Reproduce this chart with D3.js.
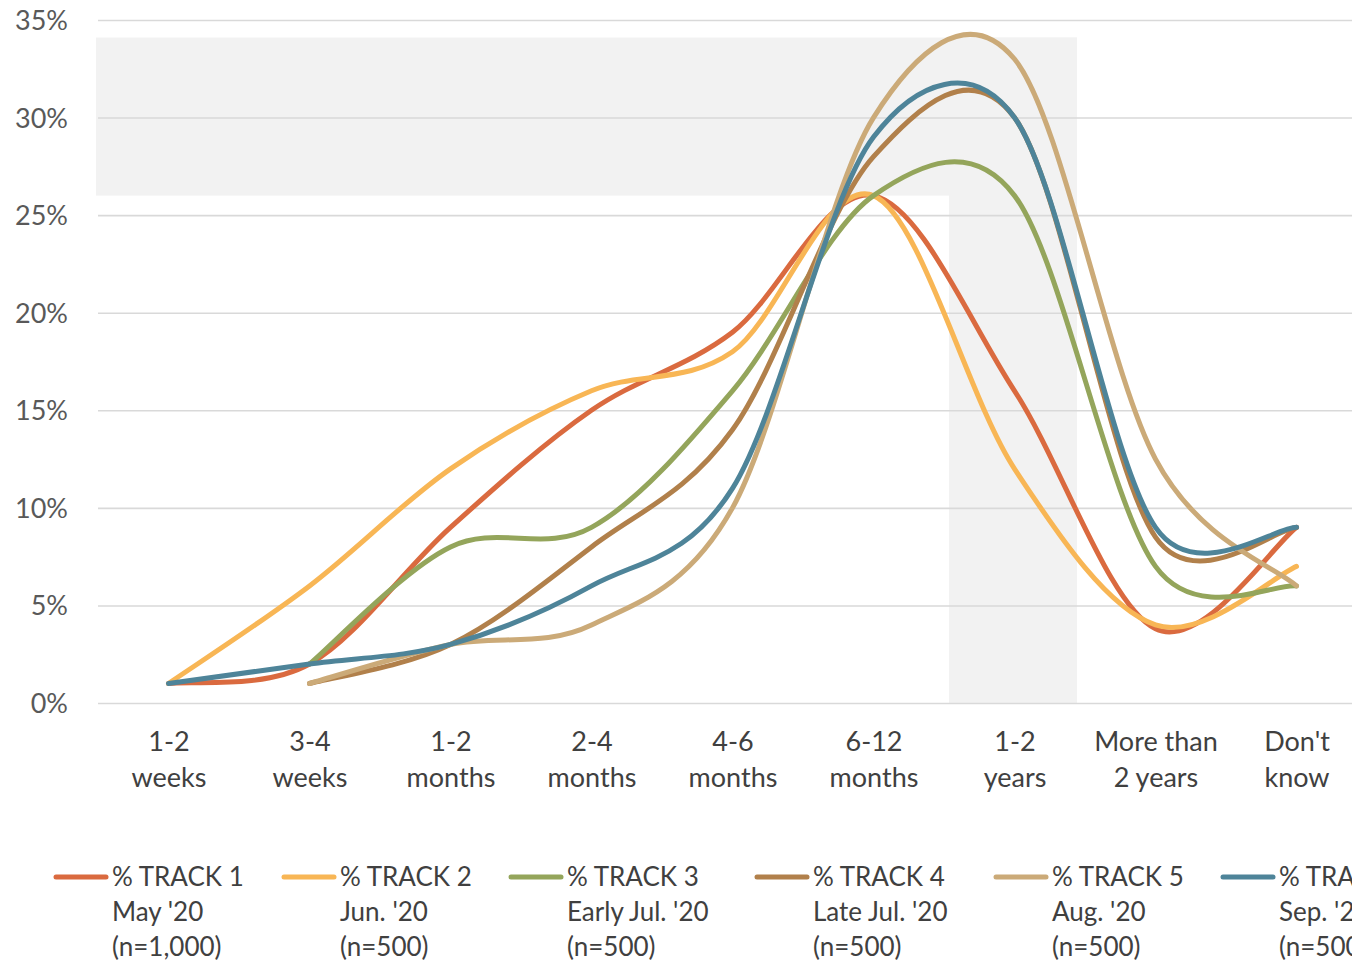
<!DOCTYPE html>
<html>
<head>
<meta charset="utf-8">
<script src="https://cdn.jsdelivr.net/npm/d3@7"></script>
<style>
  html, body { margin: 0; padding: 0; background: #fff; overflow: hidden; }
  svg { display: block; }
  text { font-family: "Lato", "Open Sans", sans-serif; }
</style>
</head>
<body>
<svg id="chart" width="1352" height="962"></svg>
<script>
// ---------- data ----------
const categories = ["1-2 weeks", "3-4 weeks", "1-2 months", "2-4 months", "4-6 months",
                    "6-12 months", "1-2 years", "More than 2 years", "Don't know"];
const categoryLines = [["1-2", "weeks"], ["3-4", "weeks"], ["1-2", "months"], ["2-4", "months"],
                       ["4-6", "months"], ["6-12", "months"], ["1-2", "years"],
                       ["More than", "2 years"], ["Don't", "know"]];
const yTicks = [0, 5, 10, 15, 20, 25, 30, 35];

const track1 = [1, 2, 9, 15, 19, 26, 16, 3.8, 9];
const track2 = [1, 6, 12, 16, 18, 26, 12, 4, 7];
const track3 = [null, 2, 8, 9, 16, 26, 26, 7, 6];
const track4 = [null, 1, 3, 8, 14, 28, 30, 8.5, 9];
const track5 = [null, 1, 3, 4, 10, 30, 33, 12.5, 6];
const track6 = [1, 2, 3, 6, 11, 29, 30, 9, 9];

const seriesNames = ["% TRACK 1", "% TRACK 2", "% TRACK 3", "% TRACK 4", "% TRACK 5", "% TRACK 6"];
const seriesDates = ["May '20", "Jun. '20", "Early Jul. '20", "Late Jul. '20", "Aug. '20", "Sep. '20"];
const seriesSizes = ["(n=1,000)", "(n=500)", "(n=500)", "(n=500)", "(n=500)", "(n=500)"];
const seriesColors = ["#DA6A3F", "#F8B655", "#94A55B", "#B1804B", "#CBAA78", "#4E8499"];

// highlighted zone (in value units)
const bandTop = 34.1, bandBottom = 26;

// ---------- Excel-like smoothing curve ----------
function ExcelCurve(context) { this._context = context; }
ExcelCurve.prototype = {
  areaStart() { this._line = 0; },
  areaEnd() { this._line = NaN; },
  lineStart() { this._pts = []; },
  point(x, y) { this._pts.push([+x, +y]); },
  lineEnd() {
    const p = this._pts, c = this._context, n = p.length;
    if (!n) return;
    c.moveTo(p[0][0], p[0][1]);
    for (let i = 0; i < n - 1; i++) {
      const p0 = p[Math.max(i - 1, 0)], p1 = p[i], p2 = p[i + 1], p3 = p[Math.min(i + 2, n - 1)];
      const d12 = Math.hypot(p2[0] - p1[0], p2[1] - p1[1]);
      const d02 = Math.hypot(p2[0] - p0[0], p2[1] - p0[1]);
      const d13 = Math.hypot(p3[0] - p1[0], p3[1] - p1[1]);
      let f1 = 1 / 6, f2 = 1 / 6;
      if (d02 * f1 > d12 / 2) f1 = d12 / 2 / d02;
      if (d13 * f2 > d12 / 2) f2 = d12 / 2 / d13;
      c.bezierCurveTo(
        p1[0] + f1 * (p2[0] - p0[0]), p1[1] + f1 * (p2[1] - p0[1]),
        p2[0] - f2 * (p3[0] - p1[0]), p2[1] - f2 * (p3[1] - p1[1]),
        p2[0], p2[1]);
    }
  }
};
const excelCurve = ctx => new ExcelCurve(ctx);

// ---------- layout ----------
const svg = d3.select("#chart");
const plotLeft = 98, plotRight = 1367, plotTop = 20, plotBottom = 703;

const x = d3.scalePoint().domain(categories).range([plotLeft, plotRight]).padding(0.5);
const y = d3.scaleLinear().domain([0, 35]).range([plotBottom, plotTop]);

// shaded zones
svg.append("rect")
  .attr("x", 96).attr("y", y(bandTop))
  .attr("width", 1077 - 96).attr("height", y(bandBottom) - y(bandTop))
  .attr("fill", "#F2F2F2");
svg.append("rect")
  .attr("x", 949).attr("y", y(bandTop))
  .attr("width", 1077 - 949).attr("height", y(0) - y(bandTop))
  .attr("fill", "#F2F2F2");

// gridlines + y labels
const yAxis = d3.axisLeft(y).tickValues(yTicks).tickFormat(d => d + "%")
  .tickSize(-(1352 - plotLeft)).tickPadding(30);
const gy = svg.append("g").attr("transform", `translate(${plotLeft},0)`).call(yAxis);
gy.select(".domain").remove();
gy.selectAll(".tick line").attr("stroke", "#D9D9D9").attr("stroke-width", 1.6);
gy.selectAll(".tick text")
  .attr("fill", "#595959").attr("font-size", 27).attr("x", -30)
  .attr("text-anchor", "end").attr("dy", "0.35em");

// x axis labels
const xAxis = d3.axisBottom(x).tickSize(0).tickFormat("");
const gx = svg.append("g").attr("transform", `translate(0,${plotBottom})`).call(xAxis);
gx.select(".domain").remove();
gx.selectAll(".tick").each(function(d, i) {
  const t = d3.select(this).append("text")
    .attr("fill", "#404040").attr("font-size", 27).attr("text-anchor", "middle");
  categoryLines[i].forEach((ln, j) => {
    t.append("tspan").attr("x", 0).attr("y", 48 + j * 36).text(ln);
  });
});

// lines
const allSeries = [track1, track2, track3, track4, track5, track6];
const line = d3.line()
  .defined(d => d.v !== null)
  .x(d => x(d.c))
  .y(d => y(d.v))
  .curve(excelCurve);

allSeries.forEach((s, i) => {
  const pts = categories.map((c, k) => ({ c, v: s[k] }));
  svg.append("path")
    .datum(pts)
    .attr("d", line)
    .attr("fill", "none")
    .attr("stroke", seriesColors[i])
    .attr("stroke-width", 5)
    .attr("stroke-linecap", "round")
    .attr("stroke-linejoin", "round");
});

// legend
const legendX = [53, 281, 508, 754, 993, 1220];
const legend = svg.append("g");
seriesNames.forEach((name, i) => {
  const g = legend.append("g").attr("transform", `translate(${legendX[i]},0)`);
  g.append("line")
    .attr("x1", 3).attr("x2", 53).attr("y1", 877).attr("y2", 877)
    .attr("stroke", seriesColors[i]).attr("stroke-width", 5).attr("stroke-linecap", "round");
  const t = g.append("text").attr("fill", "#404040").attr("font-size", 26);
  [name, seriesDates[i], seriesSizes[i]].forEach((ln, j) => {
    t.append("tspan").attr("x", 59).attr("y", 886 + j * 35).text(ln);
  });
});
</script>
</body>
</html>
